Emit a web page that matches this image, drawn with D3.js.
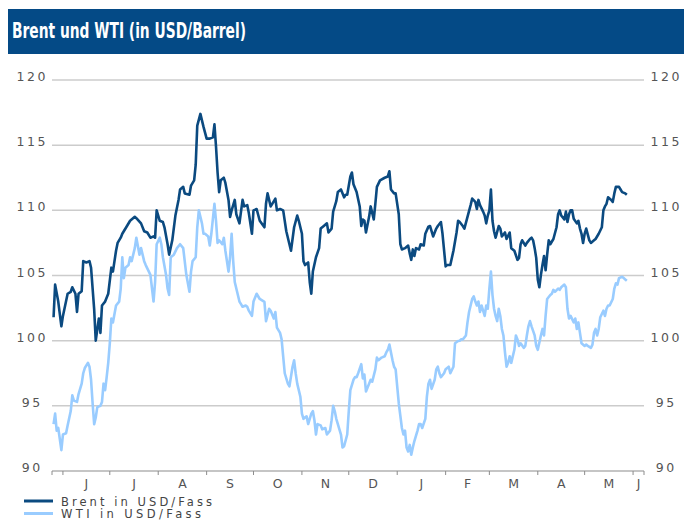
<!DOCTYPE html>
<html><head><meta charset="utf-8">
<script src="https://cdn.jsdelivr.net/npm/d3@7/dist/d3.min.js"></script>
<style>body{margin:0;background:#fff;} svg{display:block}</style>
</head><body>
<svg id="chart" width="684" height="523"></svg>
<script>
const titleText = "Brent und WTI (in USD/Barrel)";
const seriesNames = ["Brent in USD/Fass", "WTI in USD/Fass"];
const yTicks = [90, 95, 100, 105, 110, 115, 120];
const monthLabels = ["J","J","A","S","O","N","D","J","F","M","A","M","J"];
// day offsets counted from 1 June 2013, value in USD
const brent = [[-6,101.8],[-5,104.3],[-3,103.0],[-1,101.1],[0,101.9],[3,103.6],[5,103.75],[6,104.1],[8,103.6],[9,102.2],[10,103.6],[12,103.8],[13,106.1],[15,106.0],[17,106.1],[18,105.6],[20,102.4],[21,100.0],[23,101.7],[24,100.6],[25,102.7],[27,103.0],[29,103.6],[31,105.6],[32,105.3],[34,106.9],[35,107.5],[37,107.9],[38,108.2],[41,108.8],[43,109.2],[46,109.5],[47,109.4],[50,109.0],[52,108.4],[54,108.3],[56,107.9],[58,108.0],[59,107.9],[60,110.0],[62,109.2],[64,109.1],[65,108.7],[67,107.4],[68,106.6],[70,107.7],[72,109.6],[74,110.8],[75,111.6],[77,111.8],[78,111.3],[81,111.2],[82,111.9],[84,112.3],[85,113.5],[86,116.5],[88,117.4],[90,116.4],[92,115.5],[94,115.5],[96,115.6],[97,116.6],[98,114.9],[99,112.9],[100,111.4],[101,112.3],[103,112.5],[104,112.1],[106,110.8],[107,109.5],[108,110.0],[110,110.8],[111,109.7],[113,109.0],[115,110.8],[116,110.3],[118,110.4],[119,109.8],[121,108.2],[122,110.0],[124,110.1],[126,109.2],
[129,108.7],[130,110.5],[131,111.3],[133,110.3],[134,110.5],[136,110.9],[137,110.0],[139,110.1],[141,110.0],[143,108.4],[145,107.4],[146,106.9],[148,108.7],[150,109.6],[151,109.2],[153,108.2],[154,106.1],[155,105.8],[157,106.0],[158,104.5],[159,103.6],[160,105.3],[162,106.4],[164,107.1],[165,108.6],[167,108.8],[169,109.0],[170,108.3],[172,108.6],[173,109.9],[175,110.7],[176,111.4],[178,111.6],[180,111.0],[181,111.2],[182,111.2],[184,112.6],[185,112.9],[186,112.0],[188,111.4],[190,110.3],[191,108.8],[192,109.3],[193,109.2],[194,108.3],[196,109.5],[197,110.3],[199,109.3],[200,110.5],[201,111.8],[203,112.3],[206,112.5],[208,112.6],[209,113.0],[210,111.6],[212,111.3],[213,111.3],[215,109.7],[216,107.4],[217,107.0],[219,107.1],[221,107.3],[222,106.7],[223,106.2],[224,107.0],[225,106.5],[226,107.1],[228,107.0],[229,107.4],[231,107.3],[232,108.2],[234,108.75],[235,108.8],[237,108.0],[239,108.6],[240,108.8],[242,109.1],[243,108.2],[245,105.7],[246,105.8],[248,105.8],
[250,106.9],[252,108.3],[253,109.2],[254,109.1],[256,108.8],[257,108.6],[259,109.5],[261,110.4],[262,110.9],[264,110.65],[265,110.1],[266,110.8],[267,110.4],[269,109.9],[270,109.6],[271,109.0],[272,109.6],[273,110.0],[274,111.6],[275,109.2],[276,108.4],[277,107.9],[279,108.8],[280,108.6],[281,108.0],[283,108.3],[284,107.8],[286,108.3],[287,107.1],[289,106.9],[291,106.2],[292,106.35],[293,107.4],[294,107.7],[296,107.3],[297,107.5],[299,107.8],[300,107.9],[301,107.7],[302,107.1],[303,106.35],[304,104.7],[305,104.1],[306,105.05],[307,105.8],[308,106.5],[309,105.4],[310,106.6],[311,107.7],[312,107.4],[314,107.8],[316,108.7],[317,109.7],[318,110.0],[319,109.6],[321,109.3],[322,109.9],[323,109.1],[324,109.7],[325,110.0],[326,110.0],[327,109.35],[329,109.0],[330,109.2],[331,108.6],[332,108.2],[333,107.5],[334,108.2],[335,108.6],[337,107.7],[338,107.5],[340,107.7],[341,107.8],[343,108.2],[345,108.7],[346,110.0],[347,110.3],[348,110.5],[349,111.0],[351,110.8],[352,110.65],[353,111.3],[354,111.8],[356,111.8],[357,111.6],[358,111.4],[360,111.3],[361,111.2]];
const wti = [[-6,93.6],[-5,94.4],[-4,93.1],[-3,93.3],[-1,91.6],[0,92.8],[2,92.9],[3,93.5],[5,94.6],[6,95.8],[7,95.4],[9,95.3],[10,95.9],[12,96.7],[13,97.5],[14,97.9],[16,98.3],[17,98.0],[18,97.0],[19,95.2],[20,93.6],[21,94.1],[22,94.9],[24,95.0],[25,95.3],[26,96.7],[27,96.2],[28,97.2],[29,98.3],[30,99.8],[31,101.7],[32,101.4],[34,102.7],[36,103.0],[37,104.0],[38,106.4],[39,104.8],[40,105.6],[42,105.8],[43,106.4],[44,106.1],[46,107.1],[47,107.9],[49,106.6],[50,107.1],[51,106.6],[52,106.1],[53,105.8],[55,105.3],[56,105.05],[58,103.0],[59,104.5],[60,107.4],[62,107.9],[63,107.4],[64,106.4],[66,105.05],[67,104.0],[68,103.5],[69,106.4],[71,106.6],[73,107.1],[75,107.4],[77,107.1],[79,105.05],[81,103.75],[82,105.3],[83,106.1],[85,106.4],[86,108.7],[87,110.0],[89,109.0],[90,108.2],[91,108.2],[93,108.0],[94,107.3],[95,108.2],[97,110.5],[98,109.2],[99,107.5],[100,107.7],[102,107.4],[103,107.9],[104,106.9],[106,105.3],[107,106.4],[108,108.2],[109,106.1],[110,104.5],[112,103.5],[113,103.0],[114,102.8],[115,102.6],[117,102.7],[118,102.6],[119,102.3],[121,101.9],[122,103.0],[124,103.6],[126,103.2],
[129,102.97],[130,101.5],[132,102.45],[133,102.3],[135,101.7],[136,102.2],[137,101.0],[139,100.6],[140,100.1],[141,98.8],[142,97.5],[144,96.7],[145,96.5],[147,98.0],[148,98.5],[149,97.5],[150,96.7],[152,95.7],[153,94.4],[154,94.0],[156,94.2],[157,93.6],[159,94.4],[160,94.6],[161,93.9],[162,92.8],[163,93.6],[165,93.5],[166,93.2],[168,93.3],[169,92.8],[171,93.1],[172,93.9],[173,95.0],[174,94.6],[175,94.0],[176,93.6],[178,92.8],[179,91.8],[180,91.9],[182,92.8],[183,94.6],[184,96.2],[186,97.0],[187,97.2],[188,97.2],[189,97.5],[191,98.2],[192,97.1],[193,97.4],[194,96.1],[196,96.7],[197,97.0],[198,96.85],[200,97.8],[201,98.7],[202,98.5],[204,98.7],[206,98.8],[207,99.1],[208,99.3],[209,99.7],[211,98.5],[212,98.0],[213,97.8],[214,96.5],[215,95.2],[217,93.3],[218,92.8],[219,93.1],[220,91.8],[221,91.5],[222,92.0],[223,91.25],[224,91.8],[225,92.3],[227,93.1],[228,93.6],[229,93.6],[230,93.3],[232,94.0],[233,95.7],[234,96.7],[235,97.0],[236,96.3],[238,97.0],[239,97.8],[240,98.0],[241,97.5],[242,97.2],[244,97.5],[245,97.8],[247,98.0],[248,97.5],
[250,98.0],[251,99.8],[253,99.97],[254,100.0],[255,100.1],[256,100.1],[258,100.4],[259,101.4],[260,102.2],[262,103.2],[263,103.4],[264,103.0],[265,102.7],[266,103.0],[267,102.2],[268,102.7],[269,102.3],[270,101.9],[271,102.7],[272,102.45],[273,104.0],[274,105.3],[275,103.5],[276,102.45],[277,101.9],[278,101.5],[279,102.45],[280,101.9],[281,100.9],[282,100.4],[283,99.1],[284,98.0],[285,98.3],[286,98.8],[287,98.3],[289,99.3],[290,100.4],[291,100.1],[292,99.6],[293,99.8],[295,99.45],[296,99.6],[297,100.4],[298,101.1],[299,101.5],[300,101.1],[302,100.4],[303,99.6],[304,99.3],[306,100.4],[307,100.9],[308,100.4],[309,101.9],[310,103.2],[312,103.5],[313,103.6],[314,103.9],[315,103.75],[317,104.0],[318,103.9],[319,104.1],[321,104.3],[322,104.1],[323,102.45],[324,101.7],[325,101.9],[327,101.4],[328,101.7],[329,100.9],[330,101.4],[331,100.6],[332,99.8],[334,99.6],[335,99.7],[336,99.6],[338,99.45],[339,99.7],[340,100.6],[341,100.9],[342,100.4],[343,100.9],[344,101.8],[346,102.3],[347,101.9],[348,102.45],[349,102.7],[350,102.7],[352,103.2],[353,104.0],[354,104.4],[355,104.3],[356,104.8],[358,104.9],[359,104.8],[360,104.7],[361,104.6]];

const baseDate = new Date(2013, 5, 1);
const startDate = new Date(2013, 4, 25), endDate = new Date(2014, 5, 8);
const colors = ["#0b4a80", "#99ccff"];

const svg = d3.select("#chart");
const x = d3.scaleTime().domain([startDate, endDate]).range([52, 644]);
const y = d3.scaleLinear().domain([90, 120]).range([471, 80]);
const toDate = d => d3.timeDay.offset(baseDate, d);

// title band
svg.append("rect").attr("x", 8).attr("y", 9).attr("width", 676).attr("height", 45).attr("fill", "#044a86");
svg.append("text").attr("x", 12).attr("y", 38)
  .attr("font-family", "'Liberation Sans Narrow','DejaVu Sans Condensed',Arial,sans-serif")
  .attr("font-weight", "bold").attr("font-size", 21).attr("fill", "#fff")
  .attr("textLength", 234).attr("lengthAdjust", "spacingAndGlyphs")
  .text(titleText);

// grid
svg.append("g").selectAll("line").data(yTicks.filter(v => v > 90)).join("line")
  .attr("x1", 52).attr("x2", 644).attr("y1", d => y(d)).attr("y2", d => y(d))
  .attr("stroke", "#cccccc").attr("stroke-width", 1.5);

// y labels
const lblFont = "'DejaVu Sans',Verdana,sans-serif";
[31, 665].forEach(lx => {
  svg.append("g").selectAll("text").data(yTicks).join("text")
    .attr("x", lx + 1.25).attr("y", d => y(d) + 1)
    .attr("text-anchor", "middle").attr("font-family", lblFont).attr("font-size", 12.5)
    .attr("letter-spacing", 2.5).attr("fill", "#555").text(d => d);
});

// x axis
const monthStarts = d3.timeMonth.range(new Date(2013, 5, 1), endDate);
const xAxis = svg.append("g");
xAxis.append("line").attr("x1", 52).attr("x2", 644).attr("y1", 471).attr("y2", 471)
  .attr("stroke", "#8c8c8c").attr("stroke-width", 1.2);
xAxis.selectAll("line.tick").data(monthStarts.concat([startDate, endDate])).join("line").attr("class", "tick")
  .attr("x1", d => x(d)).attr("x2", d => x(d)).attr("y1", 471).attr("y2", 475)
  .attr("stroke", "#8c8c8c").attr("stroke-width", 1);
xAxis.selectAll("text").data(monthStarts).join("text")
  .attr("x", d => (x(d) + x(d3.min([d3.timeMonth.offset(d, 1), endDate]))) / 2)
  .attr("y", 488).attr("text-anchor", "middle").attr("font-family", lblFont)
  .attr("font-size", 12.5).attr("fill", "#555").text((d, i) => monthLabels[i]);

// lines
const line = d3.line().x(d => x(toDate(d[0]))).y(d => y(d[1]));
[[wti, colors[1]], [brent, colors[0]]].forEach(([s, c]) => {
  svg.append("path").datum(s).attr("d", line).attr("fill", "none")
    .attr("stroke", c).attr("stroke-width", 2.6).attr("stroke-linejoin", "round");
});

// legend
seriesNames.forEach((n, i) => {
  const ly = 501 + i * 12.5;
  svg.append("line").attr("x1", 24).attr("x2", 53).attr("y1", ly).attr("y2", ly)
    .attr("stroke", colors[i]).attr("stroke-width", 3);
  svg.append("text").attr("x", 61).attr("y", ly + 4.5).attr("font-family", lblFont)
    .attr("font-size", 11.5).attr("fill", "#444")
    .attr("textLength", i === 0 ? 151 : 140).attr("lengthAdjust", "spacing").text(n);
});
</script>
</body></html>
